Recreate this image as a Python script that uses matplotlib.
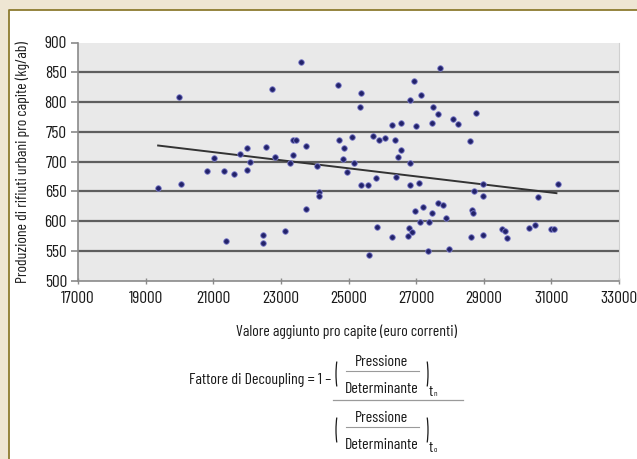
import matplotlib
matplotlib.use("Agg")
import matplotlib.pyplot as plt
from matplotlib.patches import Rectangle, Arc
from matplotlib.lines import Line2D

plt.rcParams['font.family'] = ['Barlow Condensed', 'DejaVu Sans']

# Valore aggiunto pro capite (euro) e produzione di rifiuti urbani pro capite (kg/ab)
valore_aggiunto = [
    19370, 19990, 20050, 20820, 21020, 21330, 21390, 21617, 21800, 22005,
    21995, 22100, 22550, 22830, 22460, 22460, 22735, 23115, 23260, 23362,
    23360, 23460, 23736, 23736, 23590, 24080, 24115, 24115, 24690, 24710,
    25090, 24870, 24850, 24958, 25170, 25380, 25331, 25370, 25576, 25820,
    25835, 25605, 25710, 25910, 26090, 26386, 26300, 26542, 26567, 26464,
    26412, 26275, 26830, 26820, 26950, 27150, 26995, 27497, 27655, 27467,
    27715, 28078, 28240, 28765, 28580, 26810, 27083, 26960, 27190, 27100,
    27390, 27467, 27655, 27791, 27887, 26790, 26877, 26758, 27350, 27965,
    28720, 28980, 28990, 28665, 28675, 28620, 28980, 29535, 29614, 29682,
    30353, 30501, 30994, 31092, 30619, 31185,
]
rifiuti = [
    655, 808, 662, 684, 706, 684, 567, 680, 712, 723,
    686, 699, 724, 707, 577, 564, 822, 584, 697, 711,
    736, 736, 727, 620, 867, 692, 649, 643, 829, 737,
    741, 722, 704, 683, 698, 816, 792, 661, 660, 673,
    591, 543, 743, 737, 740, 736, 761, 764, 720, 707,
    674, 573, 697, 803, 836, 812, 760, 791, 780, 765,
    858, 772, 763, 781, 735, 661, 664, 617, 624, 599,
    599, 613, 630, 627, 606, 588, 582, 575, 550, 553,
    651, 662, 643, 619, 613, 574, 576, 587, 584, 571,
    589, 593, 587, 587, 640, 662,
]

# Retta di tendenza (estremi)
tendenza_x = [19370, 31150]
tendenza_y = [727, 647]

x_ticks = [17000, 19000, 21000, 23000, 25000, 27000, 29000, 31000, 33000]
y_ticks = [500, 550, 600, 650, 700, 750, 800, 850, 900]

W, H = 637, 459
fig = plt.figure(figsize=(W / 100, H / 100), dpi=100)
fig.patch.set_facecolor('#EEE6D3')

# Pannello bianco con bordo a sinistra e in alto (coordinate in pixel)
bg = fig.add_axes([0, 0, 1, 1], zorder=0)
bg.set_xlim(0, W)
bg.set_ylim(H, 0)
bg.axis('off')
bg.add_patch(Rectangle((9, 10), W - 9, H - 10, facecolor='white', edgecolor='none'))
bg.add_line(Line2D([9, 9, W], [H, 10, 10], color='#8C7B2F', lw=1.3))

# Grafico a dispersione
ax = fig.add_axes([78 / W, 1 - 280.7 / H, (619 - 78) / W, (280.7 - 42.5) / H], zorder=1)
ax.set_facecolor('#E9E9E9')
ax.set_xlim(17000, 33000)
ax.set_ylim(500, 900)
ax.set_xticks(x_ticks)
ax.set_yticks(y_ticks)
ax.set_xticklabels([str(v) for v in x_ticks])
ax.set_yticklabels([str(v) for v in y_ticks])
for y in y_ticks[1:-1]:
    ax.axhline(y, color='#5E5E5E', lw=1.6, zorder=1)
ax.plot(tendenza_x, tendenza_y, color='#333333', lw=1.4, zorder=2)
ax.scatter(valore_aggiunto, rifiuti, s=16, color='#22226A',
           edgecolors='#7C7CCC', linewidths=0.6, zorder=3)

ax.spines['top'].set_visible(False)
ax.spines['right'].set_color('#D0D0D0')
ax.spines['left'].set_color('#8A8A8A')
ax.spines['bottom'].set_color('#8A8A8A')
ax.spines['left'].set_linewidth(1.2)
ax.spines['bottom'].set_linewidth(1.2)
ax.tick_params(axis='y', direction='out', length=5, width=1.2, color='#8A8A8A',
               labelsize=12.5, pad=3, labelcolor='#1A1A1A')
ax.tick_params(axis='x', direction='inout', length=5, width=1.0, color='#8A8A8A',
               labelsize=12.5, pad=5, labelcolor='#1A1A1A')

# Etichette degli assi
bg.text(346.5, 332, 'Valore aggiunto pro capite (euro correnti)', ha='center', va='center',
        fontsize=11.3, color='#1A1A1A')
bg.text(23, 162, 'Produzione di rifiuti urbani pro capite (kg/ab)', ha='center', va='center',
        rotation=90, fontsize=11.3, color='#1A1A1A')

# Formula del fattore di decoupling
fs = 11.5
col = '#1A1A1A'
bg.text(331, 380, 'Fattore di Decoupling = 1 \u2013', ha='right', va='center', fontsize=fs, color=col)
bg.add_line(Line2D([333, 463], [400, 400], color='#9A9A9A', lw=0.9))


def gruppo(cy, pedice):
    # frazione Pressione / Determinante tra parentesi con pedice
    bg.text(382, cy - 12, 'Pressione', ha='center', va='center', fontsize=fs, color=col)
    bg.add_line(Line2D([346, 419], [cy - 3.5, cy - 3.5], color='#9A9A9A', lw=0.8))
    bg.text(382, cy + 15, 'Determinante', ha='center', va='center', fontsize=fs, color=col)
    bg.add_patch(Arc((344, cy), 16, 57, theta1=120, theta2=240, color=col, lw=0.9))
    bg.add_patch(Arc((420, cy), 16, 57, theta1=-60, theta2=60, color=col, lw=0.9))
    bg.text(429, cy + 18, 't', ha='left', va='center', fontsize=fs, color=col)
    bg.text(433.5, cy + 20, pedice, ha='left', va='center', fontsize=6, color=col)


gruppo(374, 'n')
gruppo(430, 'o')

fig.savefig('out.png', dpi=100, facecolor=fig.get_facecolor())
